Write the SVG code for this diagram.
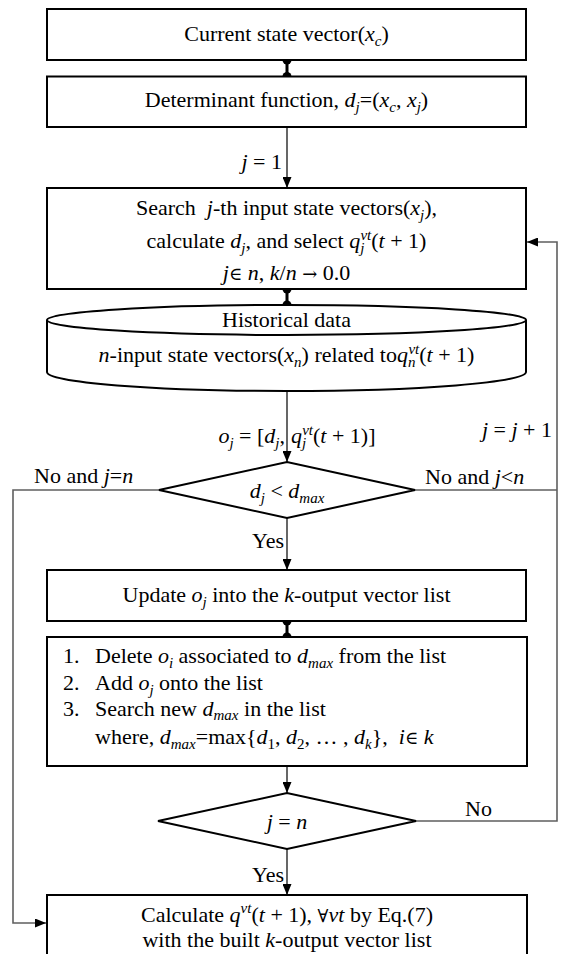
<svg xmlns="http://www.w3.org/2000/svg" width="563" height="954" viewBox="0 0 563 954">
<style>
.box{fill:#fff;stroke:#000;stroke-width:2}
.t{font-family:"Liberation Serif","Times New Roman",serif;font-size:22px;fill:#000;white-space:pre}
.c{text-anchor:middle}
.e{text-anchor:end}
.m{font-style:italic}
.s{font-size:15px}
.sym{font-family:"DejaVu Serif",serif;font-size:18px}
.ar{stroke:#000;stroke-width:1.2;fill:none;marker-end:url(#ah)}
.fb{stroke:#5f5f5f;stroke-width:1.6;fill:none}
.fba{stroke:#5f5f5f;stroke-width:1.6;fill:none;marker-end:url(#ah)}
.dl{stroke:#000;stroke-width:3}
</style>
<defs>
<marker id="ah" markerUnits="userSpaceOnUse" markerWidth="11" markerHeight="9" refX="11" refY="4.5" orient="auto">
<path d="M0,0 L11,4.5 L0,9 z" fill="#000"/>
</marker>
</defs>

<g id="connectors">
<line class="ar" x1="287" y1="127" x2="287" y2="188"/>
<line class="ar" x1="287" y1="391" x2="287" y2="462"/>
<line class="ar" x1="287" y1="518" x2="287" y2="570"/>
<line class="ar" x1="287" y1="766" x2="287" y2="793"/>
<line class="ar" x1="287" y1="849" x2="287" y2="895"/>
<polyline class="fba" points="159,490 13,490 13,923 46,923"/>
<polyline class="fb" points="415,490 557,490"/>
<polyline class="fba" points="416,821 557,821 557,242 527,242"/>
<line class="dl" x1="287" y1="60" x2="287" y2="76.5"/>
<circle cx="287" cy="60" r="4.5"/>
<circle cx="287" cy="76.5" r="4.5"/>
<line class="dl" x1="287" y1="289" x2="287" y2="305"/>
<circle cx="287" cy="289" r="4.5"/>
<circle cx="287" cy="305" r="4.5"/>
<line class="dl" x1="287" y1="621" x2="287" y2="637"/>
<circle cx="287" cy="621" r="4.5"/>
<circle cx="287" cy="637" r="4.5"/>
<text class="t e" x="282" y="169"><tspan class="m">j</tspan> = 1</text>
<text class="t e" x="285" y="443"><tspan class="m">o</tspan><tspan class="m s" dy="5">j</tspan><tspan dy="-5"> = [</tspan><tspan class="m">d</tspan><tspan class="m s" dy="5">j</tspan><tspan dy="-5">,</tspan></text>
<text class="t" x="291" y="443"><tspan class="m">q</tspan><tspan class="m s" dy="5">j</tspan><tspan class="m s" dx="-4" dy="-13">vt</tspan><tspan dy="8">(</tspan><tspan class="m">t</tspan> + 1)]</text>
<text class="t e" x="552" y="437"><tspan class="m">j</tspan> = <tspan class="m">j</tspan> + 1</text>
<text class="t" x="34" y="483">No and <tspan class="m">j</tspan>=<tspan class="m">n</tspan></text>
<text class="t" x="425" y="484">No and <tspan class="m">j</tspan>&lt;<tspan class="m">n</tspan></text>
<text class="t e" x="284" y="548">Yes</text>
<text class="t" x="465" y="816">No</text>
<text class="t e" x="284" y="882">Yes</text>
</g>

<g id="n1">
<rect class="box" x="47" y="9" width="479" height="51"/>
<text class="t c" x="286.5" y="41">Current state vector(<tspan class="m">x</tspan><tspan class="m s" dy="5">c</tspan><tspan dy="-5">)</tspan></text>
</g>

<g id="n2">
<rect class="box" x="47" y="76.5" width="479" height="50.5"/>
<text class="t c" x="286.5" y="107">Determinant function, <tspan class="m">d</tspan><tspan class="m s" dy="5">j</tspan><tspan dy="-5">=(</tspan><tspan class="m">x</tspan><tspan class="m s" dy="5">c</tspan><tspan dy="-5">, </tspan><tspan class="m">x</tspan><tspan class="m s" dy="5">j</tspan><tspan dy="-5">)</tspan></text>
</g>

<g id="n3">
<rect class="box" x="47" y="188" width="479" height="101"/>
<text class="t c" x="286.5" y="215">Search  <tspan class="m">j</tspan>-th input state vectors(<tspan class="m">x</tspan><tspan class="m s" dy="5">j</tspan><tspan dy="-5">),</tspan></text>
<text class="t c" x="286.5" y="248">calculate <tspan class="m">d</tspan><tspan class="m s" dy="5">j</tspan><tspan dy="-5">, and select </tspan><tspan class="m">q</tspan><tspan class="m s" dy="5">j</tspan><tspan class="m s" dx="-4" dy="-13">vt</tspan><tspan dy="8">(</tspan><tspan class="m">t</tspan> + 1)</text>
<text class="t c" x="286.5" y="280"><tspan class="m">j</tspan><tspan class="sym">∈</tspan> <tspan class="m">n</tspan>, <tspan class="m">k</tspan>/<tspan class="m">n</tspan> <tspan class="sym">→</tspan> 0.0</text>
</g>

<g id="n4">
<path class="box" d="M47,320 L47,372 A239.5,19 0 0 0 526,372 L526,320"/>
<ellipse class="box" cx="286.5" cy="320" rx="239.5" ry="15"/>
<text class="t c" x="286.5" y="327">Historical data</text>
<text class="t c" x="286.5" y="362"><tspan class="m">n</tspan>-input state vectors(<tspan class="m">x</tspan><tspan class="m s" dy="5">n</tspan><tspan dy="-5">) related to</tspan><tspan class="m">q</tspan><tspan class="m s" dy="5">n</tspan><tspan class="m s" dx="-7" dy="-13">vt</tspan><tspan dy="8">(</tspan><tspan class="m">t</tspan> + 1)</text>
</g>

<g id="n5">
<polygon class="box" points="159,490 287,462 415,490 287,518"/>
<text class="t c" x="287" y="498"><tspan class="m">d</tspan><tspan class="m s" dy="5">j</tspan><tspan dy="-5"> &lt; </tspan><tspan class="m">d</tspan><tspan class="m s" dy="5">max</tspan></text>
</g>

<g id="n6">
<rect class="box" x="47" y="570" width="479" height="51"/>
<text class="t c" x="286.5" y="602">Update <tspan class="m">o</tspan><tspan class="m s" dy="5">j</tspan><tspan dy="-5"> into the </tspan><tspan class="m">k</tspan>-output vector list</text>
</g>

<g id="n7">
<rect class="box" x="47" y="637" width="480" height="129"/>
<text class="t" x="63" y="663">1.</text>
<text class="t" x="95" y="663">Delete <tspan class="m">o</tspan><tspan class="m s" dy="5">i</tspan><tspan dy="-5"> associated to </tspan><tspan class="m">d</tspan><tspan class="m s" dy="5">max</tspan><tspan dy="-5"> from the list</tspan></text>
<text class="t" x="63" y="690">2.</text>
<text class="t" x="95" y="690">Add <tspan class="m">o</tspan><tspan class="m s" dy="5">j</tspan><tspan dy="-5"> onto the list</tspan></text>
<text class="t" x="63" y="716">3.</text>
<text class="t" x="95" y="716">Search new <tspan class="m">d</tspan><tspan class="m s" dy="4">max</tspan><tspan dy="-4"> in the list</tspan></text>
<text class="t" x="95" y="744">where, <tspan class="m">d</tspan><tspan class="m s" dy="5">max</tspan><tspan dy="-5">=max{</tspan><tspan class="m">d</tspan><tspan class="s" dy="5">1</tspan><tspan dy="-5">, </tspan><tspan class="m">d</tspan><tspan class="s" dy="5">2</tspan><tspan dy="-5">, … , </tspan><tspan class="m">d</tspan><tspan class="m s" dy="5">k</tspan><tspan dy="-5">},  </tspan><tspan class="m">i</tspan><tspan class="sym">∈</tspan> <tspan class="m">k</tspan></text>
</g>

<g id="n8">
<polygon class="box" points="158,821 287,793 416,821 287,849"/>
<text class="t c" x="287" y="829"><tspan class="m">j</tspan> = <tspan class="m">n</tspan></text>
</g>

<g id="n9">
<rect class="box" x="47" y="895" width="480" height="70"/>
<text class="t c" x="287" y="922">Calculate <tspan class="m">q</tspan><tspan class="m s" dy="-9">vt</tspan><tspan dy="9">(</tspan><tspan class="m">t</tspan> + 1), <tspan class="sym">∀</tspan><tspan class="m">vt</tspan> by Eq.(7)</text>
<text class="t c" x="287" y="947">with the built <tspan class="m">k</tspan>-output vector list</text>
</g>
</svg>
